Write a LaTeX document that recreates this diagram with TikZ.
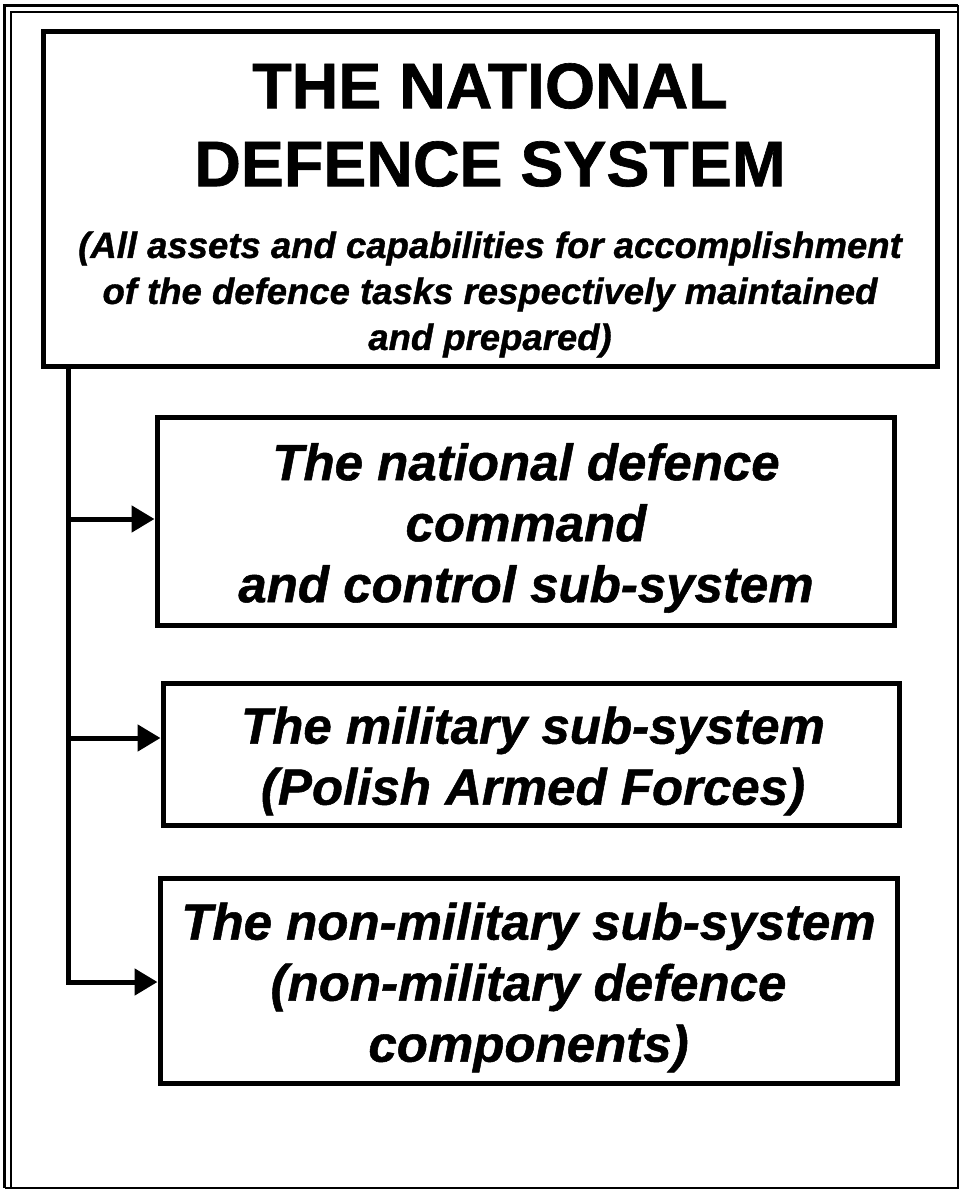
\documentclass[tikz,border=0pt]{standalone}
\usepackage{fontspec}
\setmainfont{Liberation Sans}
\newfontfamily\heavyup{Liberation Sans Bold}[FakeBold=1]
\newfontfamily\heavyit{Liberation Sans Bold Italic}[FakeBold=1]
\usetikzlibrary{arrows.meta}
\begin{document}
\begin{tikzpicture}[x=1pt,y=-1pt,
  box/.style={draw, line width=5pt, inner sep=0pt},
  conn/.style={line width=5pt, -{Triangle[length=23pt,width=26pt]}},
  sublbl/.style={font=\fontsize{51}{61}\heavyit, align=center},
  titlelbl/.style={font=\fontsize{64.5}{78}\heavyup, align=center},
  desclbl/.style={font=\fontsize{36.5}{46}\heavyit, align=center},
]
\useasboundingbox (0,0) rectangle (961,1190);
\fill[white] (0,0) rectangle (961,1190);
% page frame
\draw[line width=3pt] (4.5,1188) -- (4.5,5.5) -- (958,5.5);
\draw[line width=1.8pt] (958,5.5) -- (958,1188) -- (4.5,1188);
\draw[line width=1.2pt] (11,1188) -- (11,12) -- (958,12);
% top box
\node[box, minimum width=894pt, minimum height=334pt] (top) at (490,199) {};
\node[titlelbl] (title) at (490,125) {THE NATIONAL\\DEFENCE SYSTEM};
\node[desclbl] (desc) at (490,294.5) {(All assets and capabilities for accomplishment\\of the defence tasks respectively maintained\\and prepared)};
% sub-system boxes
\node[box, minimum width=737pt, minimum height=208pt] (b1) at (525.5,521) {};
\node[sublbl] (b1t) at (526,528) {The national defence\\command\\and control sub-system};
\node[box, minimum width=736pt, minimum height=142pt] (b2) at (531,754) {};
\node[sublbl] (b2t) at (533,761) {The military sub-system\\(Polish Armed Forces)};
\node[box, minimum width=737pt, minimum height=205pt] (b3) at (528.5,980.5) {};
\node[sublbl] (b3t) at (528.5,987.5) {The non-military sub-system\\(non-military defence\\components)};
% connectors
\coordinate (a1) at (68,519);
\coordinate (a2) at (68,738);
\coordinate (a3) at (68,982);
\draw[conn] (top.south -| a3) -- (a3) -- (a3 -| b3.west);
\draw[conn] (a1) -- (a1 -| b1.west);
\draw[conn] (a2) -- (a2 -| b2.west);
\end{tikzpicture}
\end{document}
